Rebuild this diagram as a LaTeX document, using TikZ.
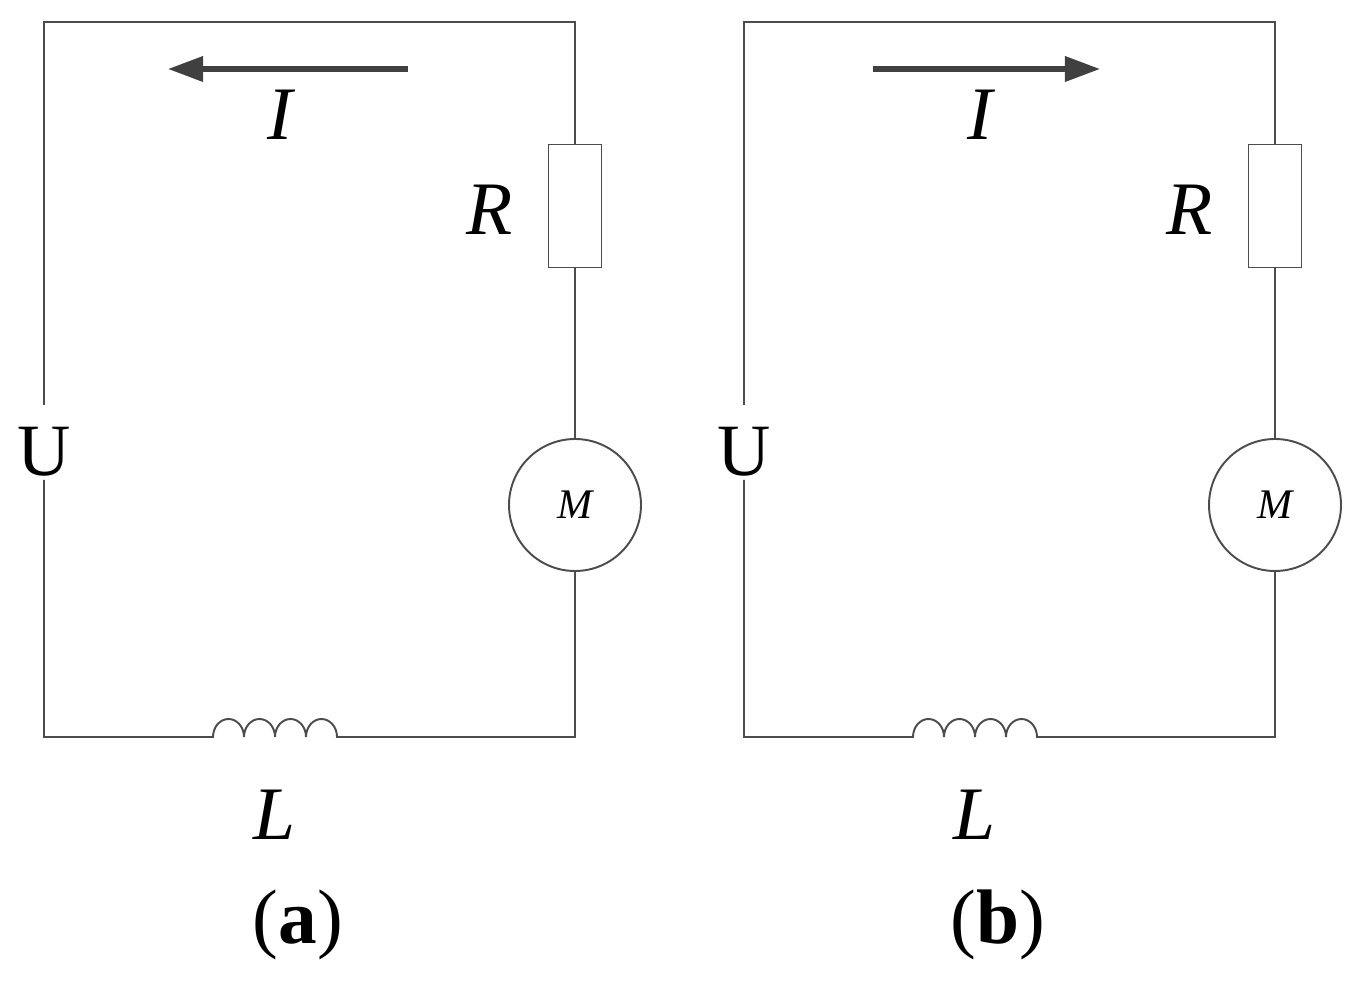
\documentclass[tikz,border=0pt]{standalone}
\usepackage{fontspec}
\setmainfont{Liberation Serif}
\usetikzlibrary{arrows.meta}
\begin{document}
\begin{tikzpicture}[x=0.02cm,y=-0.02cm,
 wire/.style={draw=black!70,line width=1.1pt},
 lab/.style={font=\fontsize{43}{48}\selectfont\itshape},
 cur/.style={draw=black!75,line width=3pt,-{Triangle[length=20pt,width=14pt]}}]
\useasboundingbox (0,0) rectangle (1360,986);
\foreach \dx/\tag/\ax/\bx in {0/a/408/168,700/b/173/400}{
\begin{scope}[xshift=\dx*0.02cm]
\coordinate (tl) at (44,22); \coordinate (tr) at (575,22);
\coordinate (bl) at (44,737); \coordinate (br) at (575,737);
\node[draw=black!70,line width=1.1pt,minimum width=53*0.02cm,minimum height=123*0.02cm,inner sep=0] (R) at (575,206) {};
\node[draw=black!70,line width=1.1pt,circle,minimum size=132*0.02cm,inner sep=0,font=\fontsize{24}{26}\selectfont\itshape] (M) at (575,505) {M};
\node[font=\fontsize{42}{46}\selectfont,inner sep=0] (U) at (44,452) {U};
\coordinate (Ut) at (44,405); \coordinate (Ub) at (44,480);
\coordinate (L1) at (183,737); \coordinate (L2) at (373,737);
\draw[wire] (Ut) -- (tl) -- (tr) -- (R.north);
\draw[wire] (R.south) -- (M.north);
\draw[wire] (M.south) -- (br) -- (L2) -- (339,737);
\draw[wire] (Ub) -- (bl) -- (L1) -- (213,737)
  arc[start angle=180,end angle=0,x radius=15.5,y radius=-18]
  arc[start angle=180,end angle=0,x radius=15.5,y radius=-18]
  arc[start angle=180,end angle=0,x radius=15.5,y radius=-18]
  arc[start angle=180,end angle=0,x radius=15.5,y radius=-18] -- (339,737);
\coordinate (A1) at (\ax,69); \coordinate (A2) at (\bx,69);
\draw[cur] (A1) -- (A2);
\node[lab] (I) at (280,115) {I};
\node[lab] (Rl) at (490,210) {R};
\node[lab] (Ll) at (275,815) {L};
\node[font=\fontsize{44}{48}\selectfont] (cap) at (298,925) {(\textbf{\tag})};
\end{scope}}
\end{tikzpicture}
\end{document}
